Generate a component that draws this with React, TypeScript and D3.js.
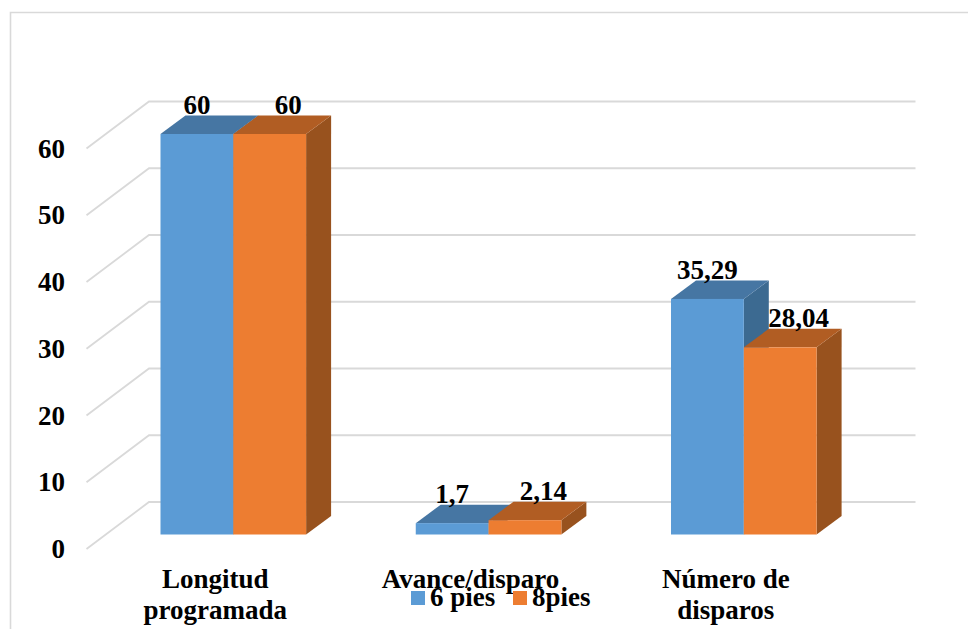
import React from "react";
import * as d3 from "d3";

const categories = [["Longitud", "programada"], ["Avance/disparo"], ["Número de", "disparos"]];
const seriesNames = ["6 pies", "8pies"];
const sixFeet = [60, 1.7, 35.29];
const eightFeet = [60, 2.14, 28.04];
const valueLabels = [["60", "1,7", "35,29"], ["60", "2,14", "28,04"]];
const yTicks = [0, 10, 20, 30, 40, 50, 60];

const faces = [
  { front: "#5b9bd5", top: "#4676a3", side: "#3c6a91" },
  { front: "#ed7d31", top: "#b15d23", side: "#98521e" },
];

const WIDTH = 968;
const HEIGHT = 629;
const DEPTH_X = 25;
const DEPTH_Y = 18.5;
const FONT = "'Liberation Serif', 'Times New Roman', serif";

const y = d3.scaleLinear().domain([0, 60]).range([534.5, 134]);
const x = d3.scaleBand<number>().domain([0, 1, 2]).range([160.5, 926.25]).paddingInner(0).paddingOuter(0);
const barW = 72.8;

export default function App() {
  const series = [sixFeet, eightFeet];
  return (
    <svg
      width={WIDTH}
      height={HEIGHT}
      style={{ position: "absolute", left: 0, top: 0, background: "#fff" }}
      fontFamily={FONT}
      fontWeight="bold"
      fill="#000"
    >
      {/* chart frame, open at the right and bottom edges */}
      <path d={`M10.5 ${HEIGHT}V12.5H${WIDTH}`} fill="none" stroke="#d9d9d9" strokeWidth={1.6} />

      {/* side wall and back wall gridlines */}
      {yTicks.map((t) => (
        <path
          key={t}
          d={`M86.5 ${y(t) + 14.5}L149 ${y(t) - 32.5}H915.5`}
          fill="none"
          stroke="#d9d9d9"
          strokeWidth={1.8}
        />
      ))}
      {yTicks.map((t) => (
        <text key={t} x={65} y={y(t) + 23.5} fontSize={27} textAnchor="end">
          {t}
        </text>
      ))}

      {/* 3D columns */}
      {categories.map((_, c) =>
        series.map((vals, s) => {
          const x0 = (x(c) as number) + s * barW;
          const x1 = x0 + barW;
          const yt = y(vals[c]);
          const yb = y(0);
          const f = faces[s];
          return (
            <g key={`${c}-${s}`}>
              <path d={`M${x1} ${yt}l${DEPTH_X} ${-DEPTH_Y}V${yb - DEPTH_Y}L${x1} ${yb}Z`} fill={f.side} />
              <path d={`M${x0} ${yt}l${DEPTH_X} ${-DEPTH_Y}H${x1 + DEPTH_X}L${x1} ${yt}Z`} fill={f.top} />
              <rect x={x0} y={yt} width={barW} height={yb - yt} fill={f.front} />
            </g>
          );
        })
      )}

      {/* value labels */}
      {categories.map((_, c) =>
        series.map((vals, s) => (
          <text
            key={`${c}-${s}`}
            x={(x(c) as number) + s * barW + barW / 2 + s * 18.5}
            y={y(vals[c]) - DEPTH_Y - 1.5}
            fontSize={27}
            textAnchor="middle"
          >
            {valueLabels[s][c]}
          </text>
        ))
      )}

      {/* category labels */}
      {categories.map((lines, c) =>
        lines.map((line, i) => (
          <text
            key={line}
            x={(x(c) as number) + barW - 18}
            y={588 + i * 31}
            fontSize={27}
            textAnchor="middle"
          >
            {line}
          </text>
        ))
      )}

      {/* legend */}
      {seriesNames.map((name, i) => {
        const lx = 411 + i * 102;
        return (
          <g key={name}>
            <rect x={lx} y={591} width={14} height={14} fill={faces[i].front} />
            <text x={lx + 19} y={605.5} fontSize={27}>
              {name}
            </text>
          </g>
        );
      })}
    </svg>
  );
}
